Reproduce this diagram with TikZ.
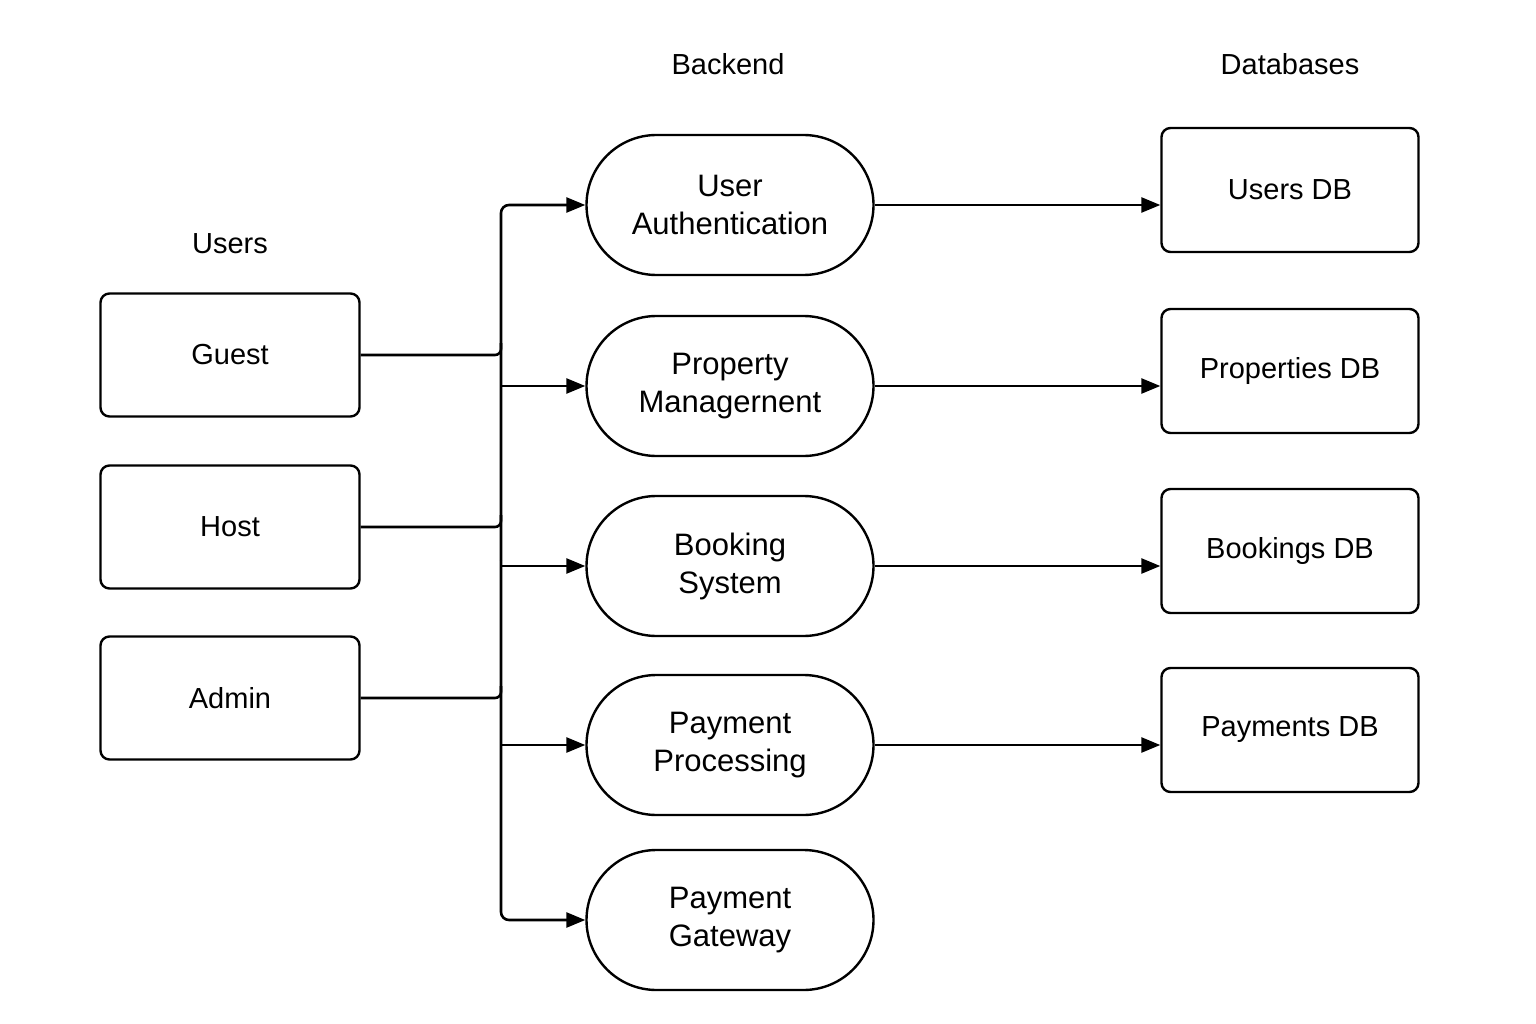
\documentclass[tikz,border=0pt]{standalone}
\usepackage{fontspec}
\setmainfont{Liberation Sans}
\usetikzlibrary{arrows.meta,calc}
\begin{document}
\begin{tikzpicture}[x=1pt,y=-1pt,
  every node/.style={font=\fontsize{29}{38}\selectfont},
  userbox/.style={draw,line width=2.4pt,rounded corners=9pt,minimum width=259pt,minimum height=123pt,inner sep=0pt},
  dbbox/.style={draw,line width=2.4pt,rounded corners=9pt,minimum width=257pt,minimum height=124pt,inner sep=0pt},
  svc/.style={draw,line width=2.4pt,rounded corners=70pt,minimum width=287pt,minimum height=140pt,inner sep=0pt,align=center,font=\fontsize{31}{38}\selectfont},
  conn/.style={line width=2.6pt},
  arr/.style={conn,-{Triangle[length=19pt,width=15pt]}},
  title/.style={}]
\useasboundingbox (0,0) rectangle (1536,1024);
% titles
\node[title] (tusers) at (230,244) {Users};
\node[title] (tback) at (728,64) {Backend};
\node[title] (tdb) at (1290,64) {Databases};
% users
\node[userbox] (guest) at (230,355) {Guest};
\node[userbox] (host) at (230,527) {Host};
\node[userbox] (admin) at (230,698) {Admin};
% services
\node[svc] (auth) at (730,205) {User\\Authentication};
\node[svc] (prop) at (730,386) {Property\\Managernent};
\node[svc] (book) at (730,566) {Booking\\System};
\node[svc] (pay) at (730,745) {Payment\\Processing};
\node[svc] (gate) at (730,920) {Payment\\Gateway};
% databases
\node[dbbox] (udb) at (1290,190) {Users DB};
\node[dbbox] (pdb) at (1290,371) {Properties DB};
\node[dbbox] (bdb) at (1290,551) {Bookings DB};
\node[dbbox] (paydb) at (1290,730) {Payments DB};
% bus
\coordinate (bus) at (501,560);
\draw[arr,rounded corners=8pt] (bus) |- (auth.west);
\draw[arr,rounded corners=8pt] (bus) |- (gate.west);
\draw[arr] (bus |- prop.west) -- (prop.west);
\draw[arr] (bus |- book.west) -- (book.west);
\draw[arr] (bus |- pay.west) -- (pay.west);
% users to bus
\draw[conn,rounded corners=6pt] (guest.east) -| ($(bus |- guest.east)+(0,-12)$);
\draw[conn,rounded corners=6pt] (host.east) -| ($(bus |- host.east)+(0,-12)$);
\draw[conn,rounded corners=6pt] (admin.east) -| ($(bus |- admin.east)+(0,-12)$);
% services to dbs
\draw[arr] (auth.east) -- (auth.east -| udb.west);
\draw[arr] (prop.east) -- (prop.east -| pdb.west);
\draw[arr] (book.east) -- (book.east -| bdb.west);
\draw[arr] (pay.east) -- (pay.east -| paydb.west);
\end{tikzpicture}
\end{document}
